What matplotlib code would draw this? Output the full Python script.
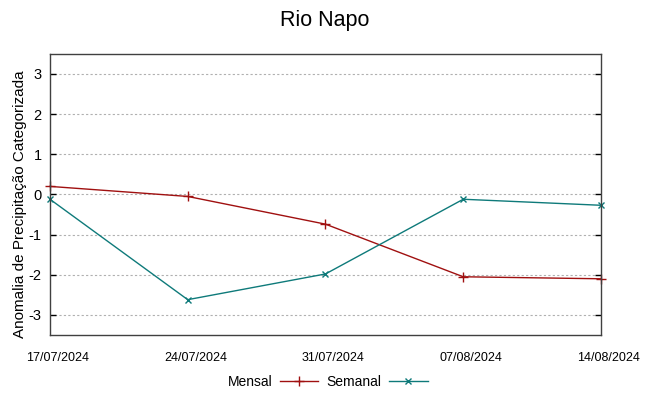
import matplotlib
matplotlib.use("Agg")
import matplotlib.pyplot as plt
import matplotlib.transforms as mtransforms

plt.rcParams["font.family"] = ["Liberation Sans", "DejaVu Sans"]

dates = ["17/07/2024", "24/07/2024", "31/07/2024", "07/08/2024", "14/08/2024"]
mensal = [0.20, -0.05, -0.74, -2.05, -2.10]
semanal = [-0.12, -2.62, -1.98, -0.12, -0.27]
y_ticks = [-3, -2, -1, 0, 1, 2, 3]

fig = plt.figure(figsize=(6.49, 3.96), dpi=100)
ax = fig.add_axes([0.077, 0.154, 0.849, 0.710])

xs = list(range(len(dates)))
ax.plot(xs, mensal, color="#a01010", lw=1.0, marker="+", ms=7, mew=1.0,
        label="Mensal", clip_on=False)
ax.plot(xs, semanal, color="#0e7a7a", lw=1.0, marker="x", ms=5, mew=1.0,
        label="Semanal", clip_on=False)

ax.set_xlim(0, len(dates) - 1)
ax.set_ylim(-3.5, 3.5)
ax.set_xticks(xs, dates, fontsize=9)
ax.set_yticks(y_ticks, [str(v) for v in y_ticks], fontsize=10.5)
ax.tick_params(axis="y", direction="in", length=4, right=True, width=1, pad=6)
ax.tick_params(axis="x", direction="in", length=0, pad=12)
# gnuplot-like offset of the date labels
shift = mtransforms.ScaledTranslation(8 / 100, 0, fig.dpi_scale_trans)
for lbl in ax.get_xticklabels():
    lbl.set_transform(lbl.get_transform() + shift)
ax.grid(axis="y", color="#b0b0b0", linestyle=(0, (2, 2)), lw=0.8)
for s in ax.spines.values():
    s.set_color("#404040")
    s.set_linewidth(1.0)

ax.set_ylabel("Anomalia de Precipitação Categorizada", fontsize=11)
ax.yaxis.set_label_coords(-0.042, 0.465)
fig.suptitle("Rio Napo", fontsize=15.5, y=0.975)

fig.legend(loc="center", bbox_to_anchor=(0.505, 0.036), ncol=2, frameon=False,
           markerfirst=False, fontsize=10, handlelength=2.8, columnspacing=0.6,
           handletextpad=0.5)

fig.savefig("out.png", dpi=100)
